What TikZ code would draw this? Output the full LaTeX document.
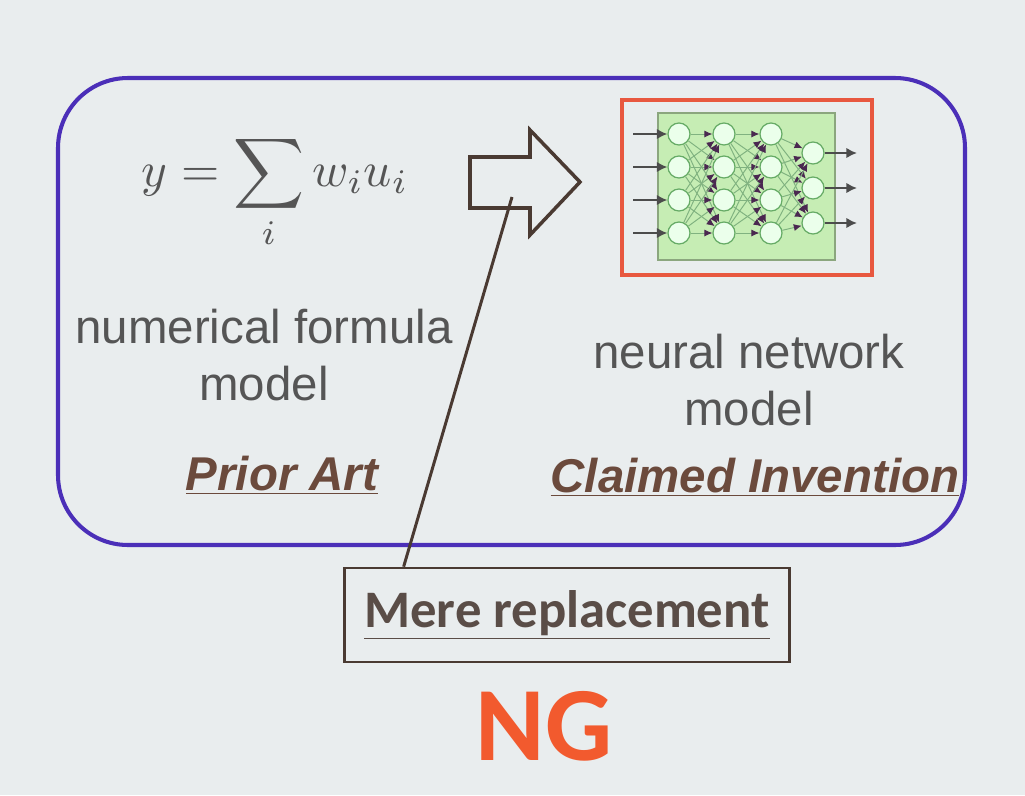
\documentclass[tikz,border=0pt]{standalone}
\usepackage{fontspec}
\setmainfont{Liberation Sans}
\newfontfamily\calibri{Carlito}
\usepackage{tikz}
\usetikzlibrary{shapes, arrows.meta, positioning, calc}

\definecolor{slide}{HTML}{E9EDEE}
\definecolor{framebl}{HTML}{4B2FB8}
\definecolor{nnred}{HTML}{E8583F}
\definecolor{nngreen}{HTML}{C6EDB4}
\definecolor{nnpurple}{HTML}{4A2850}
\definecolor{txtgrey}{HTML}{555555}
\definecolor{artbrown}{HTML}{6B4A3C}
\definecolor{linebr}{HTML}{4A3A32}
\definecolor{meregrey}{HTML}{5A4D47}
\definecolor{ngorange}{HTML}{F25A2E}

\tikzset{
  neuron/.style={circle, draw=black!55!green!60, fill=white!92!green, line width=0.7pt,
                 minimum size=0.44cm, inner sep=0pt},
  synapse/.style={draw=black!60!green!50, line width=0.55pt,
                  -{Latex[length=4.5pt,width=4pt,color=nnpurple]}},
  feed/.style={draw=black!70, line width=1.3pt, -{Latex[length=6pt,width=6pt]}},
  lbl/.style={text=txtgrey, align=center, font=\fontsize{27}{32.4}\selectfont},
  heading/.style={text=artbrown, font=\fontsize{27}{32.4}\selectfont\bfseries\itshape},
}

\begin{document}
\begin{tikzpicture}[x=0.02cm,y=-0.02cm]
  \fill[slide] (0,0) rectangle (1025,795);
  \useasboundingbox (0,0) rectangle (1025,795);

  % outer frame
  \draw[framebl, line width=2.3pt, rounded corners=1.4cm] (58,78) rectangle (965,545);

  % prior art side
  \node[scale=2.8, text=txtgrey] (formula) at (275,192) {$\displaystyle y=\sum_i w_iu_i$};
  \node[lbl] (numtext) at (264,355) {numerical formula\\model};
  \node[heading, anchor=base] (prior) at (282,490) {\underline{Prior Art}};

  % hollow arrow
  \draw[linebr, line width=2pt, fill=slide, line join=miter]
    (470,157) -- (530,157) -- (530,130) -- (580,182) -- (530,235) -- (530,208) -- (470,208) -- cycle;
  \coordinate (tail) at (512,197);

  % neural network
  \node[draw=nnred, line width=2.3pt, minimum width=5cm, minimum height=3.5cm] (netframe) at (747,187.5) {};
  \node[draw=black!30!nngreen, fill=nngreen, line width=0.6pt, minimum width=3.54cm, minimum height=2.94cm] (netbg) at (746.5,186.5) {};
  \foreach \c/\x in {1/679,2/724,3/771}
    \foreach \r/\y in {1/134,2/167,3/200,4/233}
      \node[neuron] (n\c\r) at (\x,\y) {};
  \foreach \r/\y in {1/153,2/188,3/223}
    \node[neuron] (o\r) at (813,\y) {};
  \foreach \a/\b in {1/2,2/3}
    \foreach \i in {1,...,4}
      \foreach \j in {1,...,4}
        \draw[synapse] (n\a\i) -- (n\b\j);
  \foreach \i in {1,...,4}
    \foreach \j in {1,2,3}
      \draw[synapse] (n3\i) -- (o\j);
  \foreach \r/\y in {1/134,2/167,3/200,4/233} {
    \coordinate (in\r) at (633,\y);
    \draw[feed] (in\r) -- (n1\r);
  }
  \foreach \r/\y in {1/153,2/188,3/223} {
    \coordinate (out\r) at (857,\y);
    \draw[feed] (o\r) -- (out\r);
  }

  % claimed invention side
  \node[lbl] (nntext) at (749,380) {neural network\\model};
  \node[heading, anchor=base] (claimed) at (755,492) {\underline{Claimed Invention}};

  % verdict
  \node[draw=linebr, line width=1.5pt, minimum width=8.9cm, minimum height=1.88cm,
        text=meregrey, font=\calibri\fontsize{30}{36}\selectfont\bfseries] (mere) at (567,615)
        {\underline{Mere replacement}};
  \draw[linebr, line width=1.7pt] (tail) -- ($(mere.north west)!0.135!(mere.north east)$);
  \node[text=ngorange, font=\calibri\fontsize{60}{72}\selectfont\bfseries] (ng) at (544,726) {NG};
\end{tikzpicture}
\end{document}
